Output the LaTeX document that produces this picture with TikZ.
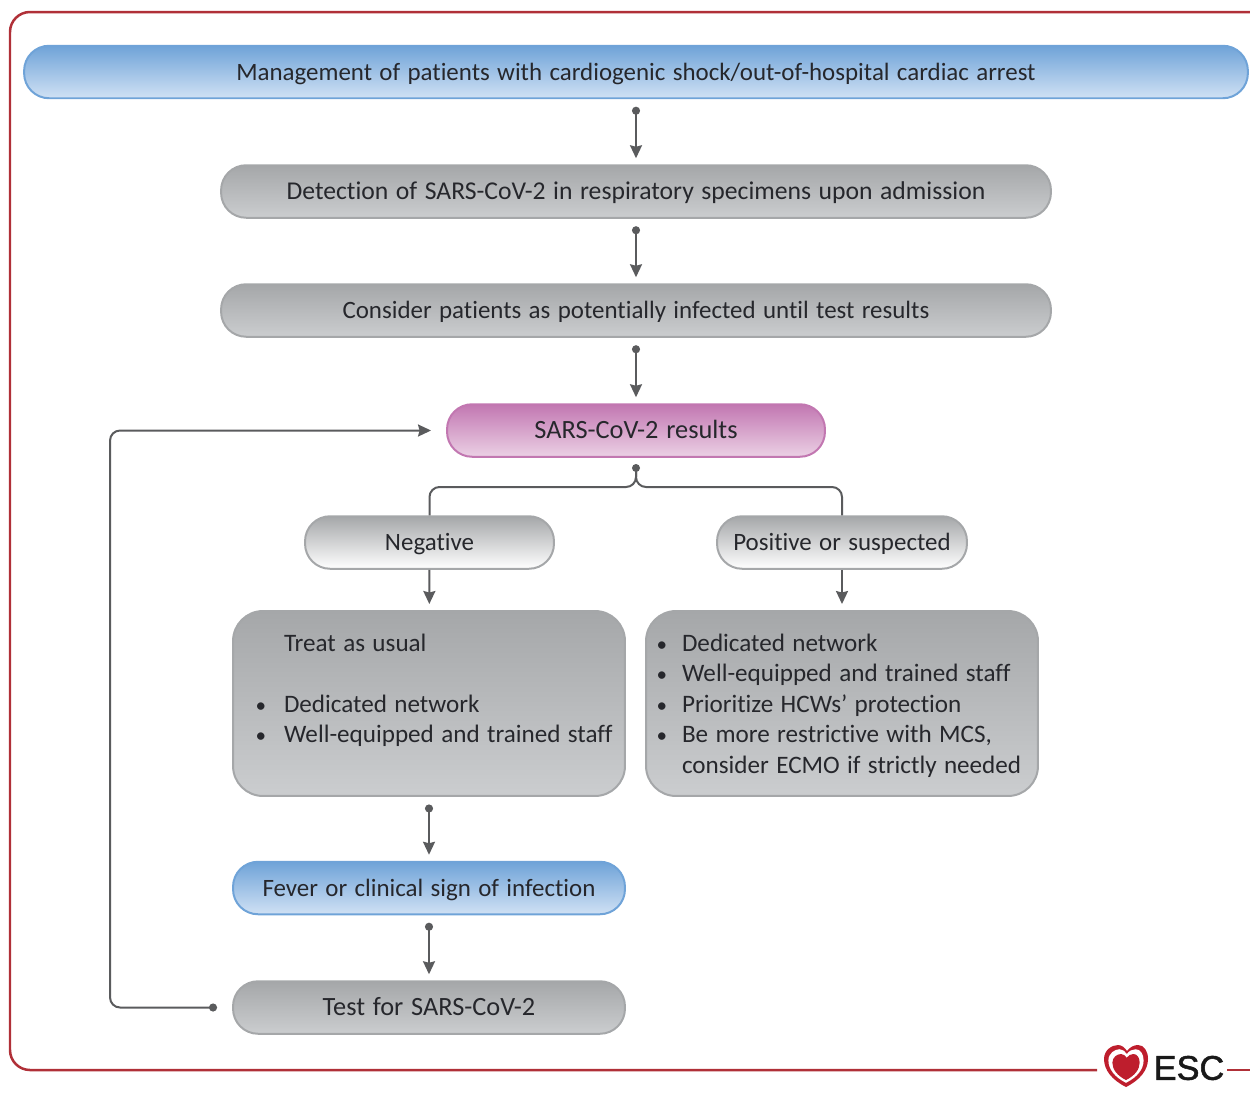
\documentclass[tikz,border=0pt]{standalone}
\usepackage{fontspec}
\setmainfont{Carlito}[WordSpace=1.3,Ligatures=NoCommon]
\newfontfamily\escfont{Liberation Sans}[FakeBold=1.5]
\usetikzlibrary{arrows.meta}
\tikzset{>=stealth}
\definecolor{penColor}{HTML}{5A5B5D}
\definecolor{inkColor}{HTML}{26272C}
\definecolor{frameRed}{HTML}{B03038}
\definecolor{escRed}{HTML}{BE1E2D}
\definecolor{blueTop}{HTML}{6FA3D8}
\definecolor{blueLow}{HTML}{D0E1F4}
\definecolor{pinkTop}{HTML}{C277B1}
\definecolor{pinkLow}{HTML}{EBD0E5}
\definecolor{greyTop}{HTML}{A5A7A9}
\definecolor{greyLow}{HTML}{CBCDCF}
\tikzset{
  pill/.style={rounded corners=0.5cm,line width=0.04cm,inner sep=0pt,
    minimum height=1.05cm,text=inkColor,text height=0.42cm,text depth=0.10cm,
    font=\fontsize{14.2}{17}\selectfont},
  greypill/.style={pill,draw=greyTop,top color=greyTop,bottom color=greyLow},
  bluepill/.style={pill,draw=blueTop,top color=blueTop,bottom color=blueLow},
  pinkpill/.style={pill,draw=pinkTop,top color=pinkTop,bottom color=pinkLow},
  whitepill/.style={pill,draw=greyTop,top color=greyTop,bottom color=white},
  listbox/.style={greypill,rounded corners=0.6cm,minimum width=7.84cm,minimum height=3.7cm,
    text height=,text depth=,align=flush left,text width=7.84cm,font=\fontsize{14.3}{17.4}\selectfont},
  capstext/.style={font=\fontsize{15}{17}\selectfont},
  flow/.style={draw=penColor,line width=0.04cm},
  dotflow/.style={flow,{Circle[length=0.16cm]}-{Stealth[length=0.26cm,width=0.24cm,inset=0.03cm]},
    shorten <=0.15cm,shorten >=0.12cm},
  plainflow/.style={flow,-{Stealth[length=0.26cm,width=0.24cm,inset=0.03cm]},shorten >=0.12cm},
  splitflow/.style={flow,rounded corners=0.2cm}
}
\newcommand{\lineitem}[2][0.36cm]{\makebox[#2][r]{\fontsize{12}{12}\selectfont\textbullet\hspace*{#1}}}
\newcommand{\lineindent}[1]{\hspace*{#1}}
\newcommand{\heartpath}{(0,21) .. controls (-14,14) and (-22,4) .. (-22,-7) .. controls (-22,-16) and (-14,-21) .. (-8,-21) .. controls (-4,-21) and (-1,-18) .. (1,-15) .. controls (4,-19) and (8,-21) .. (12,-21) .. controls (18,-21) and (22,-15) .. (22,-7) .. controls (22,4) and (14,14) .. (0,21) -- cycle}
\begin{document}
\begin{tikzpicture}[x=0.02cm,y=-0.02cm]
  \useasboundingbox (0,0) rectangle (1250,1106);
  \draw [frameRed,line width=0.05cm,rounded corners=0.4cm] (1250,12) -- (10,12) -- (10,1070) -- (1097,1070);
  \draw [frameRed,line width=0.05cm] (1227,1070) -- (1250,1070);

  \node (banner) at (636,72) [bluepill,minimum width=24.48cm] {Management of patients with cardiogenic shock/out-of-hospital cardiac arrest};
  \node (detect) at (636,191.5) [greypill,minimum width=16.6cm,font=\fontsize{14.6}{17}\selectfont] {Detection of SARS-CoV-2 in respiratory specimens upon admission};
  \node (consider) at (636,310.5) [greypill,minimum width=16.6cm] {Consider patients as potentially infected until test results};
  \node (results) at (636,430.5) [pinkpill,capstext,minimum width=7.56cm] {SARS-CoV-2 results};
  \node (negative) at (429.5,542.5) [whitepill,minimum width=4.98cm] {Negative};
  \node (positive) at (842,542.5) [whitepill,minimum width=5cm] {Positive or suspected};
  \node (usual) at (429,703.5) [listbox] {
    \strut\lineindent{1.02cm}Treat as usual\\
    ~\\
    \lineitem{1.02cm}Dedicated network\\
    \lineitem{1.02cm}Well-equipped and trained staff\\
    \vphantom{y}~};
  \node (restrict) at (842,703.5) [listbox] {
    \strut\lineitem[0.3cm]{0.72cm}Dedicated network\\
    \lineitem[0.3cm]{0.72cm}Well-equipped and trained staff\\
    \lineitem[0.3cm]{0.72cm}Prioritize HCWs’ protection\\
    \lineitem[0.3cm]{0.72cm}Be more restrictive with MCS,\\
    \lineindent{0.72cm}consider ECMO if strictly needed};
  \node (fever) at (429,888) [bluepill,minimum width=7.84cm] {Fever or clinical sign of infection};
  \node (test) at (429,1007.5) [greypill,capstext,minimum width=7.84cm] {Test for SARS-CoV-2};

  \draw [dotflow] (banner) -- (detect);
  \draw [dotflow] (detect) -- (consider);
  \draw [dotflow] (consider) -- (results);
  \draw [dotflow] (usual) -- (fever);
  \draw [dotflow] (fever) -- (test);
  \draw [plainflow] (negative) -- (usual);
  \draw [plainflow] (positive) -- (restrict);

  \coordinate (split) at (636,468);
  \fill [penColor] (split) circle (4);
  \draw [splitflow] (split) -- ++(0,19) -| (negative.north);
  \draw [splitflow] (split) -- ++(0,19) -| (positive.north);
  \draw [flow,rounded corners=0.2cm,{Circle[length=0.16cm]}-{Stealth[length=0.26cm,width=0.24cm,inset=0.03cm]},shorten <=0.3cm,shorten >=0.3cm]
    (test.west) -- ++(-122,0) |- (results.west);

  \fill [escRed,shift={(1126,1066)}] \heartpath;
  \fill [white,shift={(1126,1066)},scale=0.8] \heartpath;
  \fill [escRed,shift={(1126,1067)},scale=0.62] \heartpath;
  \node (esc) at (1189,1068) [font=\fontsize{19.5}{21}\escfont,text=black!90,inner sep=0pt] {ESC};
\end{tikzpicture}
\end{document}
